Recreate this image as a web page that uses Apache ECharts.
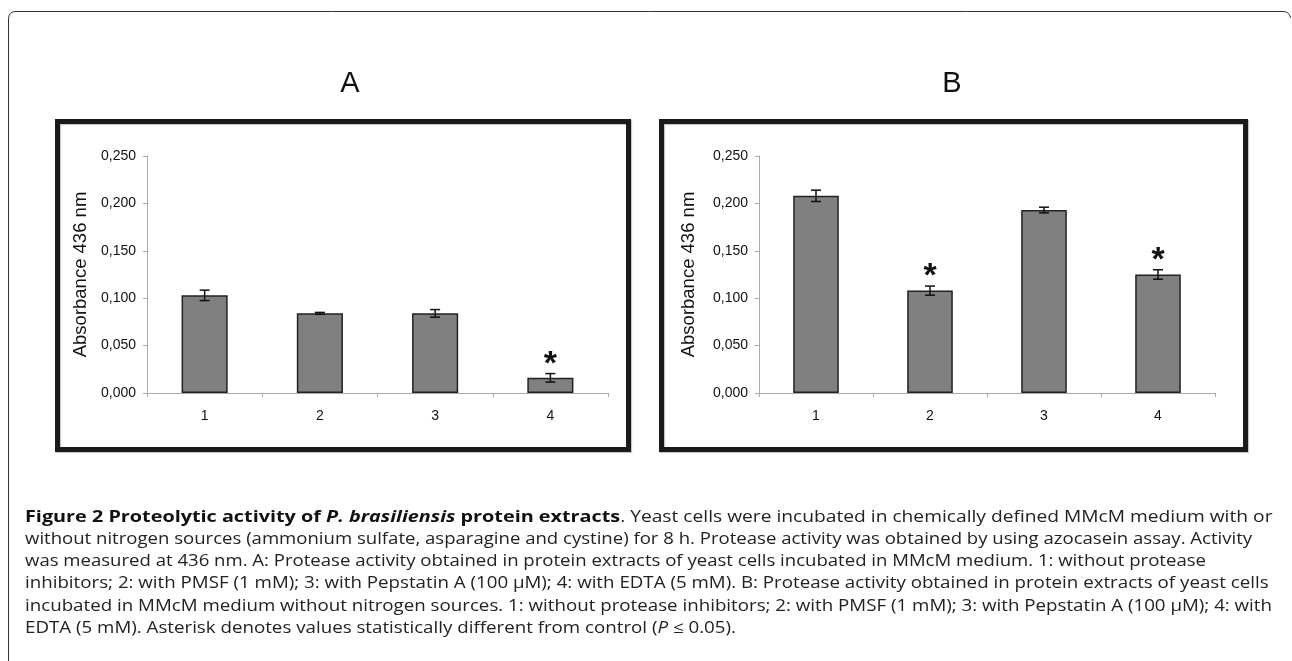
<!DOCTYPE html>
<html>
<head>
<meta charset="utf-8">
<script src="https://cdn.jsdelivr.net/npm/echarts@6/dist/echarts.min.js"></script>
<style>
html, body { margin: 0; padding: 0; background: #fff; }
#chart { width: 1292px; height: 661px; }
</style>
</head>
<body>
<div id="chart"></div>
<script>
var labels = ['1', '2', '3', '4'];

// panel A: MMcM medium
var meanA = [0.103, 0.084, 0.084, 0.016];
var errA = [0.0055, 0.001, 0.004, 0.0045];
var starA = [false, false, false, true];

// panel B: MMcM without nitrogen sources
var meanB = [0.208, 0.108, 0.193, 0.125];
var errB = [0.006, 0.0048, 0.003, 0.005];
var starB = [false, true, false, true];

var chart = echarts.init(document.getElementById('chart'));

function fmt(v) {
    return v.toFixed(3).replace('.', ',');
}

function errorItem(params, api) {
    var i = api.value(0);
    var lo = api.coord([i, api.value(1)]);
    var hi = api.coord([i, api.value(2)]);
    var w = 5;
    var st = {stroke: '#111', lineWidth: 1.5, fill: null};
    return {
        type: 'group',
        children: [
            {type: 'line', shape: {x1: hi[0] - w, y1: hi[1], x2: hi[0] + w, y2: hi[1]}, style: st},
            {type: 'line', shape: {x1: hi[0], y1: hi[1], x2: lo[0], y2: lo[1]}, style: st},
            {type: 'line', shape: {x1: lo[0] - w, y1: lo[1], x2: lo[0] + w, y2: lo[1]}, style: st}
        ]
    };
}

function starItem(params, api) {
    var p = api.coord([api.value(0), api.value(1)]);
    return {
        type: 'text',
        x: p[0],
        y: p[1] + 8,
        style: {
            text: '*',
            font: 'bold 34px "Liberation Sans", Arial, sans-serif',
            fill: '#111',
            align: 'center',
            verticalAlign: 'bottom'
        }
    };
}

function errData(mean, err) {
    return mean.map(function (m, i) { return [i, m - err[i], m + err[i]]; });
}

function starData(mean, err, star) {
    var out = [];
    star.forEach(function (s, i) {
        if (s) out.push([i, mean[i] + err[i]]);
    });
    return out;
}

function xAxis(idx) {
    return {
        type: 'category',
        gridIndex: idx,
        data: labels,
        axisLine: {lineStyle: {color: '#aaa', width: 1}},
        axisTick: {show: true, length: 4, lineStyle: {color: '#aaa'}},
        axisLabel: {color: '#111', fontSize: 14, fontFamily: '"Liberation Sans", Arial', margin: 16}
    };
}

function yAxis(idx, gap) {
    return {
        type: 'value',
        gridIndex: idx,
        min: 0,
        max: 0.25,
        interval: 0.05,
        name: 'Absorbance 436 nm',
        nameLocation: 'middle',
        nameRotate: 90,
        nameGap: gap,
        nameTextStyle: {color: '#111', fontSize: 18.5, fontFamily: '"Liberation Sans", Arial'},
        axisLine: {show: true, lineStyle: {color: '#aaa', width: 1}},
        axisTick: {show: true, length: 4, lineStyle: {color: '#aaa'}},
        splitLine: {show: false},
        axisLabel: {color: '#111', fontSize: 14, fontFamily: '"Liberation Sans", Arial', margin: 11, formatter: fmt}
    };
}

function barSeries(idx, mean) {
    return {
        type: 'bar',
        xAxisIndex: idx,
        yAxisIndex: idx,
        barWidth: '40%',
        itemStyle: {color: '#808080', borderColor: '#222', borderWidth: 1.5},
        data: mean,
        z: 2
    };
}

var capLines = [
    [
        {t: 'Figure 2 Proteolytic activity of ', s: 'b'},
        {t: 'P. brasiliensis', s: 'bi'},
        {t: ' protein extracts', s: 'b'},
        {t: '. Yeast cells were incubated in chemically defined MMcM medium with or', s: 'n'}
    ],
    [{t: 'without nitrogen sources (ammonium sulfate, asparagine and cystine) for 8 h. Protease activity was obtained by using azocasein assay. Activity', s: 'n'}],
    [{t: 'was measured at 436 nm. A: Protease activity obtained in protein extracts of yeast cells incubated in MMcM medium. 1: without protease', s: 'n'}],
    [{t: 'inhibitors; 2: with PMSF (1 mM); 3: with Pepstatin A (100 \u03bcM); 4: with EDTA (5 mM). B: Protease activity obtained in protein extracts of yeast cells', s: 'n'}],
    [{t: 'incubated in MMcM medium without nitrogen sources. 1: without protease inhibitors; 2: with PMSF (1 mM); 3: with Pepstatin A (100 \u03bcM); 4: with', s: 'n'}],
    [
        {t: 'EDTA (5 mM). Asterisk denotes values statistically different from control (', s: 'n'},
        {t: 'P', s: 'i'},
        {t: ' \u2264 0.05).', s: 'n'}
    ]
];
var capStretch = [1.2, 1.16, 1.16, 1.17, 1.17, 1.17];

var capFont = '"Open Sans", "Noto Sans", sans-serif';
var capSize = 16;
var frameStyle = {stroke: '#333', lineWidth: 1, fill: null};
var boxStyle = {stroke: '#1a1a1a', lineWidth: 5, fill: null, shadowColor: 'rgba(0,0,0,0.25)', shadowOffsetX: 1, shadowOffsetY: 1, shadowBlur: 1};
var graphics = [
    {type: 'polyline', shape: {points: [[8.5, 661], [8.5, 19]]}, style: frameStyle},
    {type: 'bezierCurve', shape: {x1: 8.5, y1: 19, cpx1: 8.5, cpy1: 11.5, x2: 16, y2: 11.5}, style: frameStyle},
    {type: 'polyline', shape: {points: [[16, 11.5], [1283, 11.5]]}, style: frameStyle},
    {type: 'bezierCurve', shape: {x1: 1283, y1: 11.5, cpx1: 1289.5, cpy1: 11.5, x2: 1290.5, y2: 18}, style: frameStyle},
    {type: 'rect', shape: {x: 57.5, y: 121.5, width: 571, height: 328}, style: boxStyle},
    {type: 'rect', shape: {x: 661.5, y: 121.5, width: 584, height: 328}, style: boxStyle},
    {
        type: 'text', x: 350, y: 84,
        style: {text: 'A', font: '29px "Liberation Sans", Arial', fill: '#111', align: 'center', verticalAlign: 'middle'}
    },
    {
        type: 'text', x: 952, y: 84,
        style: {text: 'B', font: '29px "Liberation Sans", Arial', fill: '#111', align: 'center', verticalAlign: 'middle'}
    }
];

capLines.forEach(function (line, i) {
    var txt = line.map(function (seg) {
        return '{' + seg.s + '|' + seg.t + '}';
    }).join('');
    graphics.push({
        type: 'text',
        x: 25,
        y: 517 + i * 22.3,
        scaleX: capStretch[i],
        style: {
            text: txt,
            align: 'left',
            verticalAlign: 'middle',
            rich: {
                n: {fontFamily: capFont, fontSize: capSize, fill: '#222'},
                i: {fontFamily: capFont, fontSize: capSize, fontStyle: 'italic', fill: '#222'},
                b: {fontFamily: capFont, fontSize: capSize + 0.5, fontWeight: 'bold', fill: '#111'},
                bi: {fontFamily: capFont, fontSize: capSize + 0.5, fontWeight: 'bold', fontStyle: 'italic', fill: '#111'}
            }
        }
    });
});

var option = {
    animation: false,
    backgroundColor: '#fff',
    grid: [
        {left: 147, right: 684, top: 156, bottom: 268},
        {left: 759, right: 77, top: 156, bottom: 268}
    ],
    xAxis: [xAxis(0), xAxis(1)],
    yAxis: [yAxis(0, 57), yAxis(1, 61)],
    series: [
        barSeries(0, meanA),
        barSeries(1, meanB),
        {type: 'custom', xAxisIndex: 0, yAxisIndex: 0, renderItem: errorItem, data: errData(meanA, errA), z: 3},
        {type: 'custom', xAxisIndex: 1, yAxisIndex: 1, renderItem: errorItem, data: errData(meanB, errB), z: 3},
        {type: 'custom', xAxisIndex: 0, yAxisIndex: 0, renderItem: starItem, data: starData(meanA, errA, starA), z: 3},
        {type: 'custom', xAxisIndex: 1, yAxisIndex: 1, renderItem: starItem, data: starData(meanB, errB, starB), z: 3}
    ],
    graphic: graphics
};
chart.setOption(option);
</script>
</body>
</html>
